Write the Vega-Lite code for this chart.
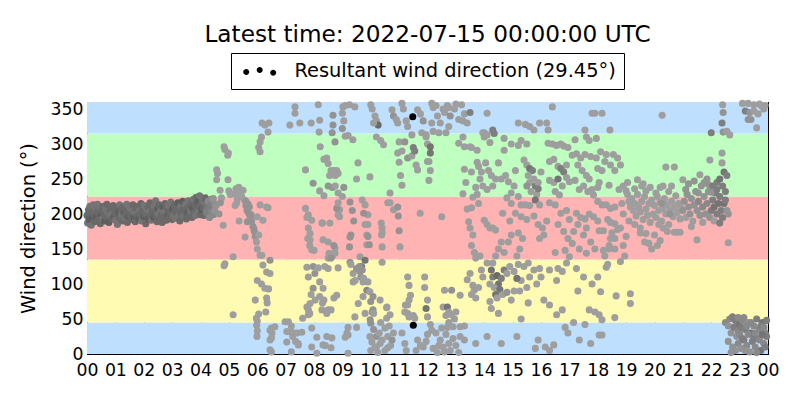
{
  "$schema": "https://vega.github.io/schema/vega-lite/v6.json",
  "width": 681,
  "height": 252,
  "autosize": {"type": "none"},
  "padding": {"left": 87, "top": 102, "right": 32, "bottom": 46},
  "background": "white",
  "title": {"text": "Latest time: 2022-07-15 00:00:00 UTC", "fontSize": 23.2, "fontWeight": "normal", "color": "black", "anchor": "middle", "offset": 5},
  "datasets": {
    "pts": [
      {"t":0.00,"d":198,"s":5},{"t":0.02,"d":187,"s":4.5},{"t":0.05,"d":206,"s":5},{"t":0.07,"d":192,"s":5.5},{"t":0.10,"d":211,"s":4.5},{"t":0.12,"d":200,"s":5},{"t":0.15,"d":184,"s":4.5},{"t":0.17,"d":203,"s":5},{"t":0.20,"d":195,"s":5.5},{"t":0.22,"d":213,"s":4.5},
      {"t":0.25,"d":199,"s":5},{"t":0.27,"d":189,"s":5},{"t":0.30,"d":207,"s":4.5},{"t":0.32,"d":196,"s":5.5},{"t":0.35,"d":203,"s":5},{"t":0.37,"d":214,"s":4.5},{"t":0.40,"d":192,"s":5},{"t":0.42,"d":201,"s":5},{"t":0.45,"d":209,"s":4.5},{"t":0.47,"d":186,"s":5},
      {"t":0.50,"d":199,"s":5.5},{"t":0.52,"d":205,"s":5},{"t":0.55,"d":193,"s":4.5},{"t":0.57,"d":211,"s":5},{"t":0.60,"d":200,"s":5},{"t":0.62,"d":190,"s":5.5},{"t":0.65,"d":207,"s":4.5},{"t":0.67,"d":197,"s":5},{"t":0.70,"d":214,"s":5},{"t":0.72,"d":203,"s":4.5},
      {"t":0.75,"d":192,"s":5},{"t":0.77,"d":188,"s":5.5},{"t":0.80,"d":204,"s":5},{"t":0.82,"d":198,"s":4.5},{"t":0.85,"d":209,"s":5},{"t":0.87,"d":194,"s":5},{"t":0.90,"d":201,"s":4.5},{"t":0.92,"d":212,"s":5},{"t":0.95,"d":196,"s":5.5},{"t":0.97,"d":205,"s":5},
      {"t":1.00,"d":191,"s":4.5},{"t":1.02,"d":200,"s":5},{"t":1.05,"d":208,"s":5},{"t":1.07,"d":185,"s":4.5},{"t":1.10,"d":197,"s":5},{"t":1.12,"d":203,"s":5.5},{"t":1.15,"d":213,"s":4.5},{"t":1.17,"d":194,"s":5},{"t":1.20,"d":206,"s":5},{"t":1.22,"d":199,"s":4.5},
      {"t":1.25,"d":190,"s":5},{"t":1.27,"d":210,"s":5},{"t":1.30,"d":202,"s":5.5},{"t":1.32,"d":195,"s":4.5},{"t":1.35,"d":207,"s":5},{"t":1.37,"d":198,"s":5},{"t":1.40,"d":214,"s":4.5},{"t":1.42,"d":188,"s":5},{"t":1.45,"d":204,"s":5},{"t":1.47,"d":196,"s":5.5},
      {"t":1.50,"d":209,"s":4.5},{"t":1.52,"d":200,"s":5},{"t":1.55,"d":192,"s":5},{"t":1.57,"d":206,"s":4.5},{"t":1.60,"d":199,"s":5},{"t":1.62,"d":213,"s":5},{"t":1.65,"d":195,"s":5.5},{"t":1.67,"d":203,"s":4.5},{"t":1.70,"d":189,"s":5},{"t":1.72,"d":208,"s":5},
      {"t":1.75,"d":200,"s":4.5},{"t":1.77,"d":197,"s":5},{"t":1.80,"d":211,"s":5},{"t":1.82,"d":193,"s":5.5},{"t":1.85,"d":205,"s":4.5},{"t":1.87,"d":199,"s":5},{"t":1.90,"d":215,"s":5},{"t":1.92,"d":190,"s":4.5},{"t":1.95,"d":202,"s":5},{"t":1.97,"d":207,"s":5},
      {"t":2.00,"d":196,"s":5.5},{"t":2.02,"d":212,"s":4.5},{"t":2.05,"d":200,"s":5},{"t":2.07,"d":186,"s":5},{"t":2.10,"d":205,"s":4.5},{"t":2.12,"d":198,"s":5},{"t":2.15,"d":210,"s":5},{"t":2.17,"d":193,"s":5.5},{"t":2.20,"d":203,"s":4.5},{"t":2.22,"d":216,"s":5},
      {"t":2.25,"d":199,"s":5},{"t":2.27,"d":191,"s":4.5},{"t":2.30,"d":207,"s":5},{"t":2.32,"d":201,"s":5},{"t":2.35,"d":195,"s":5.5},{"t":2.37,"d":211,"s":4.5},{"t":2.40,"d":204,"s":5},{"t":2.42,"d":219,"s":4.5},{"t":2.45,"d":197,"s":5},{"t":2.47,"d":189,"s":5},
      {"t":2.50,"d":208,"s":5.5},{"t":2.52,"d":200,"s":4.5},{"t":2.55,"d":213,"s":5},{"t":2.57,"d":194,"s":5},{"t":2.60,"d":205,"s":4.5},{"t":2.62,"d":199,"s":5},{"t":2.65,"d":188,"s":5},{"t":2.67,"d":210,"s":5.5},{"t":2.70,"d":202,"s":4.5},{"t":2.72,"d":196,"s":5},
      {"t":2.75,"d":215,"s":5},{"t":2.77,"d":204,"s":4.5},{"t":2.80,"d":191,"s":5},{"t":2.82,"d":208,"s":5},{"t":2.85,"d":199,"s":5.5},{"t":2.87,"d":212,"s":4.5},{"t":2.90,"d":195,"s":5},{"t":2.92,"d":203,"s":5},{"t":2.95,"d":217,"s":4.5},{"t":2.97,"d":200,"s":5},
      {"t":3.00,"d":192,"s":5},{"t":3.02,"d":207,"s":5.5},{"t":3.05,"d":198,"s":4.5},{"t":3.07,"d":213,"s":5},{"t":3.10,"d":204,"s":5},{"t":3.12,"d":194,"s":4.5},{"t":3.15,"d":209,"s":5},{"t":3.17,"d":201,"s":5},{"t":3.20,"d":216,"s":5.5},{"t":3.22,"d":196,"s":4.5},
      {"t":3.25,"d":206,"s":5},{"t":3.27,"d":190,"s":5},{"t":3.30,"d":211,"s":4.5},{"t":3.32,"d":200,"s":5},{"t":3.35,"d":205,"s":5},{"t":3.37,"d":218,"s":5.5},{"t":3.40,"d":197,"s":4.5},{"t":3.42,"d":208,"s":5},{"t":3.45,"d":203,"s":5},{"t":3.47,"d":214,"s":4.5},
      {"t":3.50,"d":193,"s":5},{"t":3.52,"d":207,"s":5},{"t":3.55,"d":201,"s":5.5},{"t":3.57,"d":219,"s":4.5},{"t":3.60,"d":198,"s":5},{"t":3.62,"d":210,"s":5},{"t":3.65,"d":204,"s":4.5},{"t":3.67,"d":215,"s":5},{"t":3.70,"d":195,"s":5},{"t":3.72,"d":209,"s":5.5},
      {"t":3.75,"d":221,"s":4.5},{"t":3.77,"d":202,"s":5},{"t":3.80,"d":213,"s":5},{"t":3.82,"d":198,"s":4.5},{"t":3.85,"d":224,"s":5},{"t":3.87,"d":207,"s":5},{"t":3.90,"d":217,"s":5.5},{"t":3.92,"d":203,"s":4.5},{"t":3.95,"d":211,"s":5},{"t":3.97,"d":226,"s":4.5},
      {"t":4.00,"d":199,"s":5},{"t":4.02,"d":214,"s":5},{"t":4.05,"d":206,"s":5.5},{"t":4.07,"d":220,"s":4.5},{"t":4.10,"d":209,"s":5},{"t":4.12,"d":198,"s":5},{"t":4.15,"d":216,"s":4.5},{"t":4.17,"d":223,"s":5},{"t":4.20,"d":204,"s":4},{"t":4.22,"d":212,"s":4.5},
      {"t":4.25,"d":200,"s":4},{"t":4.27,"d":218,"s":3.5},{"t":4.30,"d":207,"s":4},{"t":4.32,"d":195,"s":3.5},{"t":4.35,"d":213,"s":4},{"t":4.37,"d":221,"s":3.5},{"t":4.40,"d":205,"s":3.5},{"t":4.42,"d":210,"s":4},{"t":4.45,"d":199,"s":3.5},{"t":4.47,"d":215,"s":3.5},

      {"t":4.57,"d":263,"s":2.5},{"t":4.57,"d":249,"s":2.5},{"t":4.6,"d":258,"s":2.5},{"t":4.69,"d":234,"s":2.5},{"t":4.74,"d":223,"s":2.5},{"t":4.8,"d":184,"s":2.5},{"t":4.83,"d":126,"s":2.5},{"t":4.86,"d":129,"s":2.5},{"t":4.83,"d":296,"s":2.5},{"t":4.86,"d":292,"s":2.5},
      {"t":4.96,"d":284,"s":2.5},{"t":4.98,"d":287,"s":2.5},{"t":4.97,"d":249,"s":2.5},{"t":4.5,"d":205,"s":3},{"t":4.55,"d":212,"s":3},{"t":4.65,"d":200,"s":3},{"t":4.45,"d":222,"s":3},{"t":4.7,"d":216,"s":3},

      {"t":5.15,"d":139,"s":2.5},{"t":5.15,"d":56,"s":2.5},{"t":5.2,"d":229,"s":2.5},{"t":5.25,"d":236,"s":2.5},{"t":5.3,"d":222,"s":2.5},{"t":5.35,"d":238,"s":2.5},{"t":5.4,"d":231,"s":2.5},{"t":5.45,"d":225,"s":2.5},{"t":5.5,"d":234,"s":2.5},{"t":5.55,"d":220,"s":2.5},
      {"t":5.28,"d":216,"s":2.5},{"t":5.36,"d":190,"s":2.5},{"t":5.22,"d":212,"s":2.5},{"t":5.6,"d":212,"s":3},{"t":5.64,"d":205,"s":3},{"t":5.7,"d":201,"s":3},{"t":5.75,"d":196,"s":3},{"t":5.8,"d":190,"s":3},{"t":5.85,"d":182,"s":3},{"t":5.9,"d":175,"s":3},
      {"t":5.93,"d":168,"s":3},{"t":5.97,"d":160,"s":2.5},{"t":5.57,"d":167,"s":2.5},{"t":5.0,"d":233,"s":2.5},{"t":5.05,"d":228,"s":2.5},{"t":5.65,"d":189,"s":3},{"t":5.72,"d":210,"s":3},{"t":5.6,"d":218,"s":3},{"t":5.68,"d":214,"s":3},{"t":5.78,"d":199,"s":3},{"t":5.88,"d":179,"s":3},

      {"t":5.93,"d":77,"s":2.5},{"t":5.97,"d":51,"s":2.5},{"t":5.98,"d":41,"s":2.5},{"t":5.99,"d":25,"s":2.5},{"t":6.2,"d":127,"s":2.5},{"t":6.16,"d":141,"s":2.5},{"t":6.33,"d":117,"s":2.5},{"t":6.45,"d":115,"s":2.5},{"t":6.27,"d":94,"s":2.5},{"t":6.4,"d":93,"s":2.5},
      {"t":6.33,"d":80,"s":2.5},{"t":6.35,"d":73,"s":2.5},{"t":6.45,"d":134,"s":3},{"t":6.5,"d":37,"s":2.5},{"t":6.52,"d":30,"s":2.5},{"t":6.5,"d":23,"s":2.5},{"t":6.5,"d":3,"s":2.5},{"t":6.2,"d":191,"s":2.5},{"t":6.1,"d":213,"s":2.5},{"t":6.33,"d":210,"s":2.5},
      {"t":6.38,"d":209,"s":2.5},{"t":6.62,"d":39,"s":2.5},{"t":6.17,"d":330,"s":2.5},{"t":6.27,"d":327,"s":2.5},{"t":6.41,"d":330,"s":2.5},{"t":6.38,"d":317,"s":2.5},{"t":6.1,"d":303,"s":2.5},{"t":6.1,"d":289,"s":2.5},{"t":6.05,"d":295,"s":2.5},{"t":6.15,"d":310,"s":2.5},
      {"t":6.0,"d":196,"s":2.5},{"t":6.05,"d":170,"s":2.5},{"t":6.0,"d":150,"s":2.5},{"t":6.1,"d":141,"s":2.5},{"t":6.0,"d":47,"s":2.5},{"t":6.0,"d":33,"s":2.5},{"t":6.45,"d":34,"s":2.5},{"t":6.45,"d":20,"s":2.5},{"t":6.45,"d":6,"s":2.5},{"t":6.3,"d":60,"s":2.5},
      {"t":6.05,"d":57,"s":2.5},{"t":6.0,"d":105,"s":2.5},{"t":6.15,"d":100,"s":2.5},

      {"t":6.98,"d":46,"s":2.5},{"t":7.04,"d":32,"s":2.5},{"t":7.2,"d":31,"s":2.5},{"t":7.04,"d":17,"s":2.5},{"t":7.2,"d":3,"s":2.5},{"t":7.3,"d":30,"s":2.5},{"t":7.4,"d":30,"s":2.5},{"t":7.57,"d":31,"s":2.5},{"t":7.44,"d":15,"s":2.5},{"t":7.6,"d":51,"s":2.5},
      {"t":7.75,"d":67,"s":2.5},{"t":7.8,"d":63,"s":2.5},{"t":7.86,"d":72,"s":2.5},{"t":7.8,"d":56,"s":2.5},{"t":7.97,"d":125,"s":3},{"t":7.97,"d":94,"s":3},{"t":7.92,"d":37,"s":2.5},{"t":7.92,"d":10,"s":2.5},{"t":7.86,"d":163,"s":2.5},{"t":7.86,"d":172,"s":2.5},
      {"t":7.92,"d":149,"s":2.5},{"t":7.8,"d":199,"s":2.5},{"t":7.92,"d":191,"s":2.5},{"t":7.15,"d":327,"s":2.5},{"t":7.33,"d":353,"s":2.5},{"t":7.33,"d":344,"s":2.5},{"t":7.1,"d":46,"s":2.5},{"t":7.2,"d":40,"s":2.5},{"t":7.25,"d":25,"s":2.5},{"t":7.35,"d":18,"s":2.5},
      {"t":7.45,"d":13,"s":2.5},{"t":7.7,"d":208,"s":2.5},{"t":7.75,"d":195,"s":2.5},{"t":7.8,"d":180,"s":2.5},{"t":7.78,"d":165,"s":2.5},{"t":7.85,"d":155,"s":2.5},{"t":7.75,"d":124,"s":2.5},{"t":7.8,"d":110,"s":2.5},{"t":7.9,"d":85,"s":2.5},{"t":7.85,"d":58,"s":2.5},
      {"t":7.97,"d":244,"s":3},{"t":7.9,"d":330,"s":2.5},{"t":7.5,"d":330,"s":2.5},{"t":7.7,"d":263,"s":2.5},

      {"t":8.03,"d":115,"s":3},{"t":8.04,"d":77,"s":2.5},{"t":8.1,"d":1,"s":2.5},{"t":8.0,"d":148,"s":2.5},{"t":8.28,"d":187,"s":2.5},{"t":8.32,"d":163,"s":2.5},{"t":8.2,"d":82,"s":2.5},{"t":8.28,"d":63,"s":2.5},{"t":8.32,"d":94,"s":2.5},{"t":8.35,"d":77,"s":2.5},
      {"t":8.5,"d":63,"s":2.5},{"t":8.45,"d":25,"s":2.5},{"t":8.32,"d":13,"s":2.5},{"t":8.38,"d":125,"s":2.5},{"t":8.5,"d":122,"s":2.5},{"t":8.5,"d":137,"s":2.5},{"t":8.53,"d":144,"s":2.5},{"t":8.74,"d":144,"s":2.5},{"t":8.74,"d":151,"s":2.5},{"t":8.56,"d":187,"s":2.5},
      {"t":8.63,"d":23,"s":2.5},{"t":8.8,"d":84,"s":2.5},{"t":8.85,"d":123,"s":2.5},{"t":8.85,"d":199,"s":2.5},{"t":8.9,"d":206,"s":2.5},{"t":8.15,"d":356,"s":2.5},{"t":8.2,"d":334,"s":2.5},{"t":8.18,"d":317,"s":2.5},{"t":8.67,"d":341,"s":3},{"t":8.67,"d":327,"s":3},
      {"t":8.64,"d":316,"s":3},{"t":8.74,"d":303,"s":3},{"t":8.45,"d":280,"s":2.5},{"t":8.5,"d":272,"s":2.5},{"t":8.6,"d":262,"s":2.5},{"t":8.7,"d":262,"s":2.5},{"t":8.8,"d":262,"s":2.5},{"t":8.85,"d":258,"s":2.5},{"t":8.55,"d":255,"s":2.5},{"t":8.75,"d":255,"s":2.5},
      {"t":8.2,"d":233,"s":2.5},{"t":8.35,"d":226,"s":2.5},{"t":8.5,"d":240,"s":3},{"t":8.65,"d":238,"s":3},{"t":8.75,"d":240,"s":2.5},{"t":8.85,"d":230,"s":2.5},{"t":8.3,"d":187,"s":2.5},{"t":8.5,"d":160,"s":2.5},{"t":8.7,"d":155,"s":3},{"t":8.65,"d":140,"s":2.5},
      {"t":8.55,"d":140,"s":2.5},{"t":8.6,"d":137,"s":3},{"t":8.8,"d":208,"s":3},{"t":8.9,"d":196,"s":2.5},{"t":8.85,"d":216,"s":2.5},{"t":8.15,"d":123,"s":2.5},{"t":8.2,"d":103,"s":2.5},{"t":8.3,"d":73,"s":2.5},{"t":8.45,"d":58,"s":2.5},{"t":8.6,"d":63,"s":2.5},
      {"t":8.7,"d":80,"s":2.5},{"t":8.1,"d":24,"s":2.5},{"t":8.4,"d":12,"s":2.5},{"t":8.6,"d":9,"s":2.5},{"t":8.22,"d":296,"s":2.5},{"t":8.35,"d":278,"s":2.5},

      {"t":9.16,"d":30,"s":2.5},{"t":9.2,"d":27,"s":2.5},{"t":9.2,"d":1,"s":2.5},{"t":9.27,"d":167,"s":3},{"t":9.27,"d":131,"s":3},{"t":9.38,"d":115,"s":2.5},{"t":9.38,"d":103,"s":2.5},{"t":9.44,"d":53,"s":2.5},{"t":9.56,"d":72,"s":2.5},{"t":9.62,"d":139,"s":2.5},
      {"t":9.62,"d":118,"s":3},{"t":9.68,"d":125,"s":4},{"t":9.7,"d":120,"s":3},{"t":9.73,"d":103,"s":2.5},{"t":9.8,"d":134,"s":4.5},{"t":9.86,"d":156,"s":2.5},{"t":9.86,"d":170,"s":2.5},{"t":9.9,"d":199,"s":2.5},{"t":9.9,"d":185,"s":2.5},{"t":9.9,"d":103,"s":2.5},
      {"t":9.86,"d":91,"s":3.5},{"t":9.73,"d":82,"s":2.5},{"t":9.8,"d":58,"s":2.5},{"t":9.97,"d":25,"s":2.5},{"t":9.02,"d":353,"s":2.5},{"t":9.1,"d":355,"s":2.5},{"t":9.25,"d":356,"s":2.5},{"t":9.44,"d":353,"s":2.5},{"t":9.0,"d":344,"s":2.5},{"t":9.05,"d":333,"s":2.5},
      {"t":9.0,"d":322,"s":3},{"t":9.1,"d":311,"s":2.5},{"t":9.2,"d":312,"s":2.5},{"t":9.37,"d":306,"s":2.5},{"t":9.55,"d":273,"s":2.5},{"t":9.5,"d":250,"s":2.5},{"t":9.97,"d":253,"s":2.5},{"t":9.27,"d":217,"s":3},{"t":9.35,"d":205,"s":3},{"t":9.4,"d":190,"s":3},
      {"t":9.3,"d":170,"s":3},{"t":9.25,"d":153,"s":3},{"t":9.7,"d":220,"s":2.5},{"t":9.8,"d":213,"s":2.5},{"t":9.75,"d":201,"s":3},{"t":9.8,"d":185,"s":2.5},{"t":9.9,"d":168,"s":3},{"t":9.95,"d":156,"s":3},{"t":9.3,"d":128,"s":2.5},{"t":9.5,"d":122,"s":3},
      {"t":9.6,"d":125,"s":3},{"t":9.65,"d":110,"s":3},{"t":9.75,"d":108,"s":2.5},{"t":9.45,"d":105,"s":2.5},{"t":9.97,"d":89,"s":2.5},{"t":10.0,"d":75,"s":3},{"t":10.05,"d":60,"s":3},{"t":9.98,"d":49,"s":3},{"t":9.2,"d":38,"s":2.5},{"t":9.5,"d":38,"s":2.5},
      {"t":9.1,"d":24,"s":2.5},{"t":9.0,"d":225,"s":2.5},{"t":9.05,"d":238,"s":3},

      {"t":10.04,"d":17,"s":2.5},{"t":10.08,"d":82,"s":3},{"t":10.08,"d":63,"s":3},{"t":10.1,"d":58,"s":2.5},{"t":10.2,"d":10,"s":2.5},{"t":10.33,"d":15,"s":2.5},{"t":10.4,"d":173,"s":2.5},{"t":10.4,"d":180,"s":2.5},{"t":10.4,"d":131,"s":2.5},{"t":10.33,"d":77,"s":2.5},
      {"t":10.56,"d":66,"s":2.5},{"t":10.56,"d":51,"s":2.5},{"t":10.5,"d":37,"s":2.5},{"t":10.6,"d":9,"s":2.5},{"t":10.7,"d":12,"s":2.5},{"t":10.65,"d":40,"s":2.5},{"t":10.8,"d":206,"s":2.5},{"t":10.6,"d":216,"s":2.5},{"t":10.0,"d":356,"s":2.5},{"t":10.05,"d":350,"s":2.5},
      {"t":10.15,"d":340,"s":2.5},{"t":10.2,"d":333,"s":2.5},{"t":10.26,"d":327,"s":5},{"t":10.1,"d":330,"s":2.5},{"t":10.2,"d":310,"s":2.5},{"t":10.35,"d":305,"s":2.5},{"t":10.45,"d":299,"s":2.5},{"t":10.75,"d":349,"s":2.5},{"t":10.8,"d":340,"s":3},{"t":10.9,"d":335,"s":2.5},
      {"t":10.95,"d":330,"s":2.5},{"t":10.68,"d":230,"s":2.5},{"t":10.37,"d":187,"s":2.5},{"t":10.38,"d":170,"s":2.5},{"t":10.4,"d":153,"s":2.5},{"t":10.68,"d":216,"s":2.5},{"t":10.95,"d":210,"s":3},{"t":10.97,"d":197,"s":3},{"t":11.0,"d":176,"s":3},{"t":11.03,"d":153,"s":2.5},
      {"t":10.57,"d":67,"s":2.5},{"t":10.68,"d":56,"s":2.5},{"t":10.0,"d":44,"s":3},{"t":10.1,"d":35,"s":3},{"t":10.2,"d":25,"s":3},{"t":10.3,"d":30,"s":2.5},{"t":10.4,"d":20,"s":2.5},{"t":10.5,"d":5,"s":2.5},{"t":10.6,"d":25,"s":2.5},{"t":10.75,"d":20,"s":3},
      {"t":10.8,"d":30,"s":2.5},{"t":10.25,"d":2,"s":2.5},{"t":10.0,"d":5,"s":2.5},{"t":10.35,"d":45,"s":2.5},{"t":10.15,"d":10,"s":2.5},

      {"t":11.1,"d":358,"s":2.5},{"t":11.15,"d":350,"s":2.5},{"t":11.25,"d":333,"s":2.5},{"t":11.3,"d":325,"s":2.5},{"t":11.45,"d":313,"s":2.5},{"t":11.48,"d":339,"s":10},{"t":11.65,"d":349,"s":2.5},{"t":11.75,"d":343,"s":2.5},{"t":11.85,"d":333,"s":3},{"t":11.8,"d":316,"s":2.5},
      {"t":11.95,"d":310,"s":2.5},{"t":11.0,"d":303,"s":2.5},{"t":10.95,"d":287,"s":2.5},{"t":11.2,"d":303,"s":3},{"t":11.1,"d":290,"s":2.5},{"t":11.3,"d":280,"s":3},{"t":11.45,"d":283,"s":2.5},{"t":11.6,"d":270,"s":2.5},{"t":11.65,"d":263,"s":2.5},{"t":11.5,"d":295,"s":4},
      {"t":11.55,"d":290,"s":4},{"t":12.0,"d":300,"s":2.5},{"t":12.0,"d":275,"s":2.5},{"t":11.0,"d":274,"s":2.5},{"t":11.05,"d":255,"s":2.5},{"t":11.1,"d":241,"s":2.5},{"t":11.74,"d":201,"s":2.5},{"t":11.3,"d":110,"s":2.5},{"t":11.35,"d":98,"s":2.5},{"t":11.4,"d":84,"s":2.5},
      {"t":11.35,"d":77,"s":2.5},{"t":11.3,"d":70,"s":2.5},{"t":11.3,"d":58,"s":2.5},{"t":11.35,"d":53,"s":2.5},{"t":11.5,"d":55,"s":2.5},{"t":11.55,"d":51,"s":2.5},{"t":11.5,"d":41,"s":10},{"t":11.2,"d":60,"s":2.5},{"t":11.22,"d":70,"s":2.5},{"t":11.65,"d":20,"s":2.5},
      {"t":11.75,"d":12,"s":2.5},{"t":11.85,"d":10,"s":2.5},{"t":11.95,"d":18,"s":2.5},{"t":12.0,"d":28,"s":2.5},{"t":11.2,"d":15,"s":2.5},{"t":11.1,"d":30,"s":2.5},{"t":11.25,"d":5,"s":2.5},{"t":11.9,"d":110,"s":2.5},{"t":12.0,"d":77,"s":2.5},{"t":12.0,"d":53,"s":2.5},
      {"t":11.95,"d":65,"s":4.5},{"t":11.9,"d":95,"s":2.5},{"t":11.6,"d":5,"s":2.5},

      {"t":12.15,"d":358,"s":2.5},{"t":12.2,"d":352,"s":2.5},{"t":12.3,"d":355,"s":2.5},{"t":12.35,"d":340,"s":2.5},{"t":12.45,"d":330,"s":2.5},{"t":12.55,"d":350,"s":2.5},{"t":12.6,"d":345,"s":2.5},{"t":12.7,"d":355,"s":2.5},{"t":12.75,"d":352,"s":2.5},{"t":12.8,"d":340,"s":3},
      {"t":12.95,"d":350,"s":2.5},{"t":13.0,"d":357,"s":2.5},{"t":13.2,"d":356,"s":2.5},{"t":13.3,"d":343,"s":2.5},{"t":13.1,"d":335,"s":2.5},{"t":13.25,"d":333,"s":2.5},{"t":13.5,"d":345,"s":4},{"t":12.15,"d":330,"s":2.5},{"t":12.2,"d":318,"s":2.5},{"t":12.4,"d":316,"s":2.5},
      {"t":12.65,"d":316,"s":2.5},{"t":12.75,"d":325,"s":2.5},{"t":12.1,"d":296,"s":4.5},{"t":12.1,"d":287,"s":4.5},{"t":11.95,"d":313,"s":2.5},{"t":12.05,"d":275,"s":2.5},{"t":12.1,"d":262,"s":2.5},{"t":12.05,"d":248,"s":2.5},{"t":12.5,"d":196,"s":2.5},{"t":12.6,"d":91,"s":2.5},
      {"t":12.55,"d":67,"s":2.5},{"t":12.65,"d":55,"s":2.5},{"t":12.75,"d":45,"s":2.5},{"t":12.85,"d":56,"s":2.5},{"t":12.95,"d":50,"s":2.5},{"t":12.7,"d":38,"s":2.5},{"t":12.85,"d":91,"s":3},{"t":12.7,"d":67,"s":4.5},{"t":12.75,"d":60,"s":2.5},{"t":13.0,"d":60,"s":2.5},
      {"t":12.9,"d":39,"s":2.5},{"t":13.15,"d":39,"s":2.5},{"t":13.3,"d":40,"s":2.5},{"t":12.15,"d":34,"s":2.5},{"t":12.3,"d":30,"s":2.5},{"t":12.45,"d":20,"s":2.5},{"t":12.55,"d":10,"s":2.5},{"t":12.6,"d":3,"s":2.5},{"t":12.75,"d":15,"s":2.5},{"t":12.8,"d":5,"s":2.5},
      {"t":12.9,"d":22,"s":2.5},{"t":13.0,"d":12,"s":2.5},{"t":13.1,"d":2,"s":2.5},{"t":13.15,"d":25,"s":2.5},{"t":12.2,"d":8,"s":2.5},{"t":12.35,"d":2,"s":2.5},{"t":12.4,"d":12,"s":2.5},{"t":12.1,"d":42,"s":2.5},{"t":12.5,"d":37,"s":2.5},{"t":12.65,"d":28,"s":2.5},

      {"t":13.1,"d":301,"s":2.5},{"t":13.3,"d":296,"s":2.5},{"t":13.5,"d":296,"s":2.5},{"t":13.55,"d":295,"s":2.5},{"t":13.75,"d":291,"s":2.5},{"t":13.45,"d":189,"s":2.5},{"t":13.5,"d":180,"s":2.5},{"t":13.6,"d":170,"s":2.5},{"t":13.55,"d":155,"s":2.5},{"t":13.65,"d":145,"s":2.5},
      {"t":13.7,"d":137,"s":2.5},{"t":13.85,"d":140,"s":2.5},{"t":13.6,"d":224,"s":2.5},{"t":13.55,"d":209,"s":2.5},{"t":13.4,"d":207,"s":2.5},{"t":13.8,"d":215,"s":2.5},{"t":13.75,"d":274,"s":2.5},{"t":13.8,"d":268,"s":2.5},{"t":13.9,"d":260,"s":2.5},{"t":13.85,"d":250,"s":2.5},
      {"t":13.95,"d":240,"s":2.5},{"t":13.7,"d":238,"s":2.5},{"t":13.75,"d":228,"s":2.5},{"t":13.4,"d":106,"s":2.5},{"t":13.6,"d":98,"s":2.5},{"t":13.65,"d":91,"s":2.5},{"t":13.55,"d":85,"s":2.5},{"t":13.7,"d":80,"s":2.5},{"t":13.5,"d":115,"s":2.5},{"t":13.8,"d":95,"s":2.5},
      {"t":13.95,"d":316,"s":2.5},{"t":14.0,"d":310,"s":2.5},{"t":13.55,"d":260,"s":2.5},{"t":13.3,"d":264,"s":2.5},{"t":13.25,"d":229,"s":2.5},{"t":13.35,"d":245,"s":2.5},{"t":13.95,"d":110,"s":2.5},{"t":13.9,"d":120,"s":2.5},{"t":13.15,"d":84,"s":2.5},{"t":13.3,"d":20,"s":2.5},
      {"t":13.7,"d":15,"s":2.5},{"t":13.25,"d":310,"s":2.5},{"t":13.4,"d":330,"s":2.5},

      {"t":14.1,"d":344,"s":2.5},{"t":14.0,"d":316,"s":2.5},{"t":14.1,"d":313,"s":2.5},{"t":14.3,"d":320,"s":4},{"t":14.35,"d":315,"s":4},{"t":14.2,"d":302,"s":2.5},{"t":14.0,"d":191,"s":2.5},{"t":14.1,"d":185,"s":2.5},{"t":14.2,"d":180,"s":2.5},{"t":14.3,"d":180,"s":2.5},
      {"t":14.4,"d":177,"s":2.5},{"t":14.05,"d":273,"s":2.5},{"t":14.15,"d":262,"s":2.5},{"t":14.25,"d":255,"s":2.5},{"t":14.4,"d":250,"s":2.5},{"t":14.1,"d":235,"s":2.5},{"t":14.3,"d":240,"s":2.5},{"t":14.5,"d":273,"s":2.5},{"t":14.6,"d":250,"s":2.5},{"t":14.75,"d":255,"s":2.5},
      {"t":14.85,"d":246,"s":2.5},{"t":14.95,"d":230,"s":2.5},{"t":15.1,"d":262,"s":2.5},{"t":15.05,"d":240,"s":2.5},{"t":14.7,"d":308,"s":2.5},{"t":14.7,"d":291,"s":2.5},{"t":14.95,"d":300,"s":2.5},{"t":15.2,"d":298,"s":2.5},{"t":14.8,"d":223,"s":2.5},{"t":14.95,"d":215,"s":2.5},
      {"t":14.65,"d":201,"s":2.5},{"t":14.9,"d":190,"s":2.5},{"t":14.6,"d":160,"s":2.5},{"t":14.5,"d":150,"s":2.5},{"t":14.4,"d":140,"s":2.5},{"t":14.7,"d":145,"s":2.5},{"t":14.85,"d":160,"s":2.5},{"t":14.95,"d":170,"s":2.5},{"t":14.1,"d":130,"s":2.5},{"t":14.25,"d":120,"s":4.5},
      {"t":14.3,"d":110,"s":4},{"t":14.45,"d":112,"s":5},{"t":14.5,"d":100,"s":4.5},{"t":14.6,"d":108,"s":4},{"t":14.7,"d":120,"s":4},{"t":14.8,"d":115,"s":2.5},{"t":14.9,"d":125,"s":2.5},{"t":14.2,"d":100,"s":2.5},{"t":14.35,"d":95,"s":2.5},{"t":14.55,"d":92,"s":4.5},
      {"t":14.65,"d":85,"s":2.5},{"t":14.8,"d":88,"s":3},{"t":14.95,"d":77,"s":2.5},{"t":15.05,"d":90,"s":2.5},{"t":14.2,"d":75,"s":2.5},{"t":14.25,"d":65,"s":2.5},{"t":14.5,"d":58,"s":2.5},{"t":14.1,"d":25,"s":2.5},{"t":14.6,"d":15,"s":2.5},{"t":14.3,"d":130,"s":2.5},
      {"t":14.4,"d":85,"s":4.5},{"t":14.45,"d":80,"s":2.5},

      {"t":15.2,"d":330,"s":2.5},{"t":15.45,"d":328,"s":2.5},{"t":15.6,"d":325,"s":2.5},{"t":15.75,"d":320,"s":2.5},{"t":15.95,"d":330,"s":2.5},{"t":16.2,"d":330,"s":2.5},{"t":15.3,"d":305,"s":2.5},{"t":15.5,"d":300,"s":2.5},{"t":15.4,"d":277,"s":2.5},{"t":15.5,"d":270,"s":2.5},
      {"t":15.6,"d":265,"s":4.5},{"t":15.7,"d":262,"s":4},{"t":15.55,"d":255,"s":2.5},{"t":15.6,"d":245,"s":2.5},{"t":15.75,"d":250,"s":2.5},{"t":15.8,"d":240,"s":4},{"t":15.9,"d":245,"s":2.5},{"t":16.0,"d":260,"s":2.5},{"t":15.65,"d":232,"s":2.5},{"t":15.85,"d":228,"s":2.5},
      {"t":15.9,"d":236,"s":4},{"t":15.5,"d":240,"s":3},{"t":15.2,"d":225,"s":2.5},{"t":15.3,"d":213,"s":2.5},{"t":15.45,"d":213,"s":2.5},{"t":15.6,"d":212,"s":2.5},{"t":15.8,"d":220,"s":4.5},{"t":15.95,"d":213,"s":2.5},{"t":15.1,"d":201,"s":2.5},{"t":15.3,"d":196,"s":2.5},
      {"t":15.5,"d":192,"s":2.5},{"t":15.75,"d":197,"s":2.5},{"t":15.9,"d":185,"s":2.5},{"t":16.05,"d":180,"s":2.5},{"t":16.1,"d":170,"s":2.5},{"t":15.95,"d":165,"s":2.5},{"t":15.2,"d":173,"s":2.5},{"t":15.35,"d":165,"s":2.5},{"t":15.25,"d":150,"s":2.5},{"t":15.15,"d":140,"s":2.5},
      {"t":15.2,"d":128,"s":2.5},{"t":15.4,"d":125,"s":2.5},{"t":15.55,"d":130,"s":2.5},{"t":15.75,"d":120,"s":2.5},{"t":15.95,"d":122,"s":2.5},{"t":16.0,"d":110,"s":2.5},{"t":15.3,"d":105,"s":2.5},{"t":15.5,"d":95,"s":2.5},{"t":15.6,"d":110,"s":2.5},{"t":15.85,"d":100,"s":2.5},
      {"t":15.3,"d":50,"s":2.5},{"t":15.55,"d":73,"s":2.5},{"t":15.15,"d":25,"s":2.5},{"t":15.9,"d":20,"s":2.5},{"t":15.8,"d":8,"s":2.5},{"t":15.05,"d":118,"s":2.5},{"t":15.15,"d":108,"s":4.5},{"t":15.25,"d":90,"s":2.5},

      {"t":16.4,"d":353,"s":2.5},{"t":16.25,"d":301,"s":2.5},{"t":16.4,"d":300,"s":2.5},{"t":16.55,"d":298,"s":2.5},{"t":16.7,"d":300,"s":2.5},{"t":16.8,"d":297,"s":2.5},{"t":16.95,"d":295,"s":2.5},{"t":16.3,"d":275,"s":2.5},{"t":16.45,"d":278,"s":2.5},{"t":16.6,"d":268,"s":2.5},
      {"t":16.7,"d":265,"s":4},{"t":16.8,"d":260,"s":4},{"t":16.9,"d":270,"s":2.5},{"t":16.3,"d":248,"s":2.5},{"t":16.45,"d":245,"s":2.5},{"t":16.6,"d":250,"s":4.5},{"t":16.75,"d":240,"s":2.5},{"t":16.9,"d":252,"s":2.5},{"t":17.0,"d":246,"s":2.5},{"t":16.5,"d":232,"s":2.5},
      {"t":16.65,"d":227,"s":2.5},{"t":16.3,"d":216,"s":2.5},{"t":16.5,"d":213,"s":2.5},{"t":16.7,"d":201,"s":2.5},{"t":16.9,"d":205,"s":2.5},{"t":17.0,"d":192,"s":2.5},{"t":16.2,"d":190,"s":2.5},{"t":16.6,"d":185,"s":2.5},{"t":16.8,"d":175,"s":2.5},{"t":16.95,"d":165,"s":2.5},
      {"t":17.1,"d":158,"s":2.5},{"t":16.5,"d":145,"s":2.5},{"t":16.85,"d":148,"s":2.5},{"t":17.0,"d":139,"s":2.5},{"t":16.3,"d":120,"s":2.5},{"t":16.55,"d":105,"s":2.5},{"t":16.75,"d":118,"s":2.5},{"t":16.9,"d":130,"s":2.5},{"t":16.6,"d":122,"s":2.5},{"t":16.1,"d":77,"s":2.5},
      {"t":16.3,"d":70,"s":2.5},{"t":16.55,"d":56,"s":2.5},{"t":16.75,"d":63,"s":2.5},{"t":16.85,"d":38,"s":2.5},{"t":16.15,"d":10,"s":2.5},{"t":16.3,"d":5,"s":2.5},{"t":16.45,"d":13,"s":2.5},{"t":16.95,"d":30,"s":2.5},{"t":16.25,"d":320,"s":2.5},

      {"t":17.55,"d":320,"s":2.5},{"t":17.8,"d":344,"s":2.5},{"t":17.2,"d":306,"s":2.5},{"t":17.6,"d":310,"s":2.5},{"t":17.7,"d":305,"s":2.5},{"t":17.95,"d":308,"s":2.5},{"t":17.1,"d":284,"s":2.5},{"t":17.25,"d":286,"s":2.5},{"t":17.4,"d":280,"s":2.5},{"t":17.55,"d":285,"s":2.5},
      {"t":17.75,"d":282,"s":2.5},{"t":17.95,"d":280,"s":2.5},{"t":17.3,"d":270,"s":2.5},{"t":17.45,"d":262,"s":2.5},{"t":17.6,"d":255,"s":2.5},{"t":17.7,"d":250,"s":2.5},{"t":17.5,"d":240,"s":2.5},{"t":17.35,"d":235,"s":2.5},{"t":17.2,"d":248,"s":2.5},{"t":17.8,"d":235,"s":2.5},
      {"t":17.85,"d":227,"s":2.5},{"t":17.65,"d":232,"s":2.5},{"t":17.25,"d":201,"s":2.5},{"t":17.4,"d":195,"s":2.5},{"t":17.55,"d":193,"s":2.5},{"t":17.7,"d":200,"s":2.5},{"t":17.85,"d":196,"s":2.5},{"t":18.0,"d":190,"s":2.5},{"t":17.3,"d":185,"s":2.5},{"t":17.6,"d":180,"s":2.5},
      {"t":17.15,"d":175,"s":2.5},{"t":17.5,"d":170,"s":2.5},{"t":17.75,"d":160,"s":2.5},{"t":17.9,"d":150,"s":2.5},{"t":17.35,"d":150,"s":2.5},{"t":17.6,"d":144,"s":2.5},{"t":17.25,"d":122,"s":2.5},{"t":17.5,"d":110,"s":2.5},{"t":17.8,"d":100,"s":2.5},{"t":17.3,"d":90,"s":2.5},
      {"t":17.9,"d":60,"s":2.5},{"t":17.55,"d":42,"s":2.5},{"t":17.35,"d":20,"s":2.5},{"t":17.75,"d":15,"s":2.5},{"t":17.15,"d":45,"s":2.5},{"t":17.7,"d":63,"s":2.5},{"t":18.0,"d":110,"s":2.5},

      {"t":17.9,"d":344,"s":2.5},{"t":18.15,"d":344,"s":2.5},{"t":18.43,"d":320,"s":2.5},{"t":18.1,"d":289,"s":2.5},{"t":18.3,"d":285,"s":2.5},{"t":18.25,"d":275,"s":2.5},{"t":18.15,"d":262,"s":2.5},{"t":18.45,"d":270,"s":2.5},{"t":18.6,"d":262,"s":2.5},{"t":18.55,"d":285,"s":2.5},
      {"t":18.7,"d":280,"s":2.5},{"t":18.8,"d":270,"s":2.5},{"t":18.0,"d":265,"s":2.5},{"t":18.05,"d":245,"s":2.5},{"t":18.0,"d":238,"s":2.5},{"t":18.4,"d":241,"s":2.5},{"t":18.75,"d":235,"s":2.5},{"t":18.9,"d":240,"s":2.5},{"t":19.0,"d":233,"s":2.5},{"t":18.0,"d":218,"s":2.5},
      {"t":18.15,"d":213,"s":2.5},{"t":18.3,"d":213,"s":2.5},{"t":18.45,"d":208,"s":2.5},{"t":18.35,"d":192,"s":2.5},{"t":18.45,"d":188,"s":2.5},{"t":18.6,"d":186,"s":2.5},{"t":18.2,"d":176,"s":2.5},{"t":18.05,"d":176,"s":2.5},{"t":18.7,"d":178,"s":2.5},{"t":18.8,"d":180,"s":2.5},
      {"t":18.6,"d":210,"s":2.5},{"t":18.5,"d":173,"s":2.5},{"t":18.45,"d":165,"s":2.5},{"t":18.6,"d":165,"s":2.5},{"t":18.4,"d":155,"s":2.5},{"t":18.6,"d":150,"s":2.5},{"t":18.4,"d":150,"s":2.5},{"t":18.2,"d":148,"s":2.5},{"t":18.25,"d":140,"s":2.5},{"t":18.35,"d":128,"s":2.5},
      {"t":18.3,"d":124,"s":2.5},{"t":18.8,"d":132,"s":2.5},{"t":18.9,"d":155,"s":2.5},{"t":19.0,"d":168,"s":2.5},{"t":18.95,"d":140,"s":2.5},{"t":18.1,"d":89,"s":2.5},{"t":18.65,"d":83,"s":2.5},{"t":19.15,"d":86,"s":2.5},{"t":19.15,"d":72,"s":2.5},{"t":18.6,"d":52,"s":2.5},
      {"t":18.05,"d":56,"s":2.5},{"t":18.15,"d":49,"s":2.5},{"t":18.15,"d":27,"s":2.5},{"t":18.05,"d":27,"s":2.5},{"t":18.9,"d":200,"s":2.5},{"t":18.85,"d":215,"s":2.5},

      {"t":19.05,"d":228,"s":2.5},{"t":19.1,"d":218,"s":2.5},{"t":19.15,"d":210,"s":2.5},{"t":19.2,"d":222,"s":2.5},{"t":19.25,"d":205,"s":2.5},{"t":19.3,"d":215,"s":2.5},{"t":19.35,"d":197,"s":2.5},{"t":19.4,"d":228,"s":2.5},{"t":19.45,"d":210,"s":2.5},{"t":19.5,"d":203,"s":2.5},
      {"t":19.55,"d":218,"s":2.5},{"t":19.6,"d":192,"s":2.5},{"t":19.65,"d":225,"s":2.5},{"t":19.7,"d":207,"s":2.5},{"t":19.75,"d":198,"s":2.5},{"t":19.8,"d":215,"s":2.5},{"t":19.85,"d":188,"s":2.5},{"t":19.9,"d":220,"s":2.5},{"t":19.95,"d":200,"s":2.5},{"t":19.1,"d":190,"s":2.5},
      {"t":19.3,"d":185,"s":2.5},{"t":19.5,"d":180,"s":2.5},{"t":19.7,"d":172,"s":2.5},{"t":19.4,"d":249,"s":2.5},{"t":19.55,"d":240,"s":2.5},{"t":19.7,"d":233,"s":2.5},{"t":19.85,"d":238,"s":2.5},{"t":19.5,"d":173,"s":2.5},{"t":19.65,"d":160,"s":2.5},{"t":19.8,"d":158,"s":2.5},
      {"t":19.9,"d":150,"s":2.5},{"t":20.1,"d":155,"s":2.5},{"t":20.2,"d":162,"s":2.5},{"t":19.3,"d":236,"s":2.5},{"t":19.6,"d":243,"s":2.5},{"t":19.05,"d":245,"s":2.5},

      {"t":20.0,"d":212,"s":2.5},{"t":20.05,"d":195,"s":2.5},{"t":20.1,"d":225,"s":2.5},{"t":20.15,"d":205,"s":2.5},{"t":20.2,"d":217,"s":2.5},{"t":20.25,"d":190,"s":2.5},{"t":20.3,"d":208,"s":2.5},{"t":20.35,"d":222,"s":2.5},{"t":20.4,"d":200,"s":2.5},{"t":20.45,"d":213,"s":2.5},
      {"t":20.5,"d":185,"s":2.5},{"t":20.55,"d":205,"s":2.5},{"t":20.6,"d":218,"s":2.5},{"t":20.65,"d":196,"s":2.5},{"t":20.7,"d":210,"s":2.5},{"t":20.75,"d":226,"s":2.5},{"t":20.8,"d":202,"s":2.5},{"t":20.85,"d":215,"s":2.5},{"t":20.9,"d":193,"s":2.5},{"t":20.95,"d":208,"s":2.5},
      {"t":20.05,"d":230,"s":2.5},{"t":20.2,"d":238,"s":2.5},{"t":20.4,"d":267,"s":2.5},{"t":20.7,"d":267,"s":2.5},{"t":20.3,"d":240,"s":2.5},{"t":20.5,"d":232,"s":2.5},{"t":20.7,"d":174,"s":2.5},{"t":20.8,"d":174,"s":2.5},{"t":20.9,"d":174,"s":2.5},{"t":20.3,"d":180,"s":2.5},
      {"t":20.0,"d":170,"s":2.5},{"t":20.6,"d":240,"s":2.5},{"t":20.15,"d":185,"s":2.5},{"t":20.45,"d":175,"s":2.5},{"t":20.27,"d":341,"s":2.5},{"t":20.55,"d":200,"s":3},{"t":20.25,"d":215,"s":3},

      {"t":21.0,"d":205,"s":3},{"t":21.05,"d":218,"s":3},{"t":21.1,"d":195,"s":2.5},{"t":21.15,"d":228,"s":3},{"t":21.2,"d":210,"s":3},{"t":21.25,"d":200,"s":3},{"t":21.3,"d":222,"s":3},{"t":21.35,"d":190,"s":2.5},{"t":21.4,"d":213,"s":3},{"t":21.45,"d":232,"s":3},
      {"t":21.5,"d":205,"s":3},{"t":21.55,"d":218,"s":3.5},{"t":21.6,"d":198,"s":3},{"t":21.65,"d":240,"s":3},{"t":21.7,"d":210,"s":3.5},{"t":21.75,"d":225,"s":3},{"t":21.8,"d":200,"s":3},{"t":21.85,"d":215,"s":3.5},{"t":21.9,"d":232,"s":3},{"t":21.95,"d":195,"s":3},
      {"t":21.0,"d":249,"s":2.5},{"t":21.2,"d":243,"s":3},{"t":21.4,"d":247,"s":3},{"t":21.6,"d":256,"s":2.5},{"t":21.75,"d":245,"s":3},{"t":21.9,"d":242,"s":3},{"t":21.5,"d":163,"s":2.5},{"t":21.3,"d":182,"s":2.5},{"t":21.7,"d":188,"s":2.5},{"t":21.95,"d":277,"s":2.5},
      {"t":22.0,"d":316,"s":4},{"t":21.1,"d":235,"s":3},{"t":21.55,"d":230,"s":3},{"t":21.85,"d":250,"s":3},

      {"t":22.0,"d":205,"s":4},{"t":22.05,"d":220,"s":4},{"t":22.1,"d":210,"s":4.5},{"t":22.15,"d":230,"s":4},{"t":22.2,"d":200,"s":4},{"t":22.25,"d":215,"s":4.5},{"t":22.3,"d":225,"s":4},{"t":22.35,"d":205,"s":4},{"t":22.4,"d":195,"s":4},{"t":22.45,"d":215,"s":4.5},
      {"t":22.5,"d":220,"s":4},{"t":22.55,"d":205,"s":3},{"t":22.6,"d":200,"s":3},{"t":22.38,"d":287,"s":2.5},{"t":22.38,"d":273,"s":2.5},{"t":22.05,"d":240,"s":4},{"t":22.2,"d":245,"s":4},{"t":22.3,"d":250,"s":4.5},{"t":22.4,"d":240,"s":4},{"t":22.1,"d":190,"s":2.5},
      {"t":22.3,"d":187,"s":4},{"t":22.6,"d":159,"s":2.5},{"t":22.0,"d":231,"s":3},{"t":22.2,"d":235,"s":4},{"t":22.5,"d":232,"s":4},{"t":22.45,"d":260,"s":4.5},{"t":22.55,"d":255,"s":4},
      {"t":22.4,"d":356,"s":2.5},{"t":22.42,"d":345,"s":3},{"t":22.38,"d":330,"s":4},{"t":22.42,"d":317,"s":3},{"t":22.65,"d":313,"s":2.5},{"t":22.55,"d":318,"s":2.5},

      {"t":23.1,"d":358,"s":2.5},{"t":23.3,"d":358,"s":2.5},{"t":23.5,"d":356,"s":2.5},{"t":23.7,"d":357,"s":2.5},{"t":23.2,"d":347,"s":4},{"t":23.35,"d":345,"s":3},{"t":23.5,"d":347,"s":2.5},{"t":23.65,"d":343,"s":2.5},{"t":23.4,"d":335,"s":3},{"t":23.3,"d":335,"s":3},
      {"t":23.85,"d":350,"s":2.5},{"t":23.6,"d":323,"s":2.5},{"t":23.9,"d":355,"s":2.5},{"t":23.75,"d":355,"s":2.5},

      {"t":22.5,"d":45,"s":3.5},{"t":22.65,"d":50,"s":3.5},{"t":22.75,"d":53,"s":4},{"t":22.85,"d":48,"s":4},{"t":22.95,"d":52,"s":3.5},{"t":22.6,"d":40,"s":3},{"t":22.7,"d":30,"s":3},{"t":22.8,"d":38,"s":4},{"t":22.9,"d":25,"s":3},{"t":23.0,"d":42,"s":4.5},
      {"t":23.1,"d":48,"s":3.5},{"t":23.2,"d":35,"s":4},{"t":23.3,"d":45,"s":3},{"t":23.4,"d":30,"s":4.5},{"t":23.5,"d":40,"s":3.5},{"t":23.6,"d":50,"s":4},{"t":23.7,"d":35,"s":3.5},{"t":23.8,"d":45,"s":4.5},{"t":23.9,"d":30,"s":3.5},{"t":23.95,"d":48,"s":4},
      {"t":22.6,"d":18,"s":3},{"t":22.75,"d":10,"s":3},{"t":22.85,"d":5,"s":3},{"t":22.95,"d":15,"s":3.5},{"t":23.05,"d":8,"s":3},{"t":23.15,"d":20,"s":4},{"t":23.25,"d":12,"s":3.5},{"t":23.35,"d":3,"s":3},{"t":23.45,"d":18,"s":4},{"t":23.55,"d":10,"s":3.5},
      {"t":23.65,"d":22,"s":4},{"t":23.75,"d":5,"s":4.5},{"t":23.85,"d":15,"s":3.5},{"t":23.95,"d":25,"s":4},{"t":23.0,"d":28,"s":3.5},{"t":23.1,"d":22,"s":4},{"t":23.3,"d":28,"s":3.5},{"t":23.5,"d":25,"s":4},{"t":23.7,"d":20,"s":3.5},{"t":23.9,"d":10,"s":4},
      {"t":22.95,"d":33,"s":3.5},{"t":23.2,"d":5,"s":3},{"t":23.6,"d":2,"s":3.5},{"t":23.8,"d":28,"s":4.5},{"t":23.4,"d":45,"s":3.5},{"t":22.7,"d":2,"s":3},{"t":23.05,"d":38,"s":4},{"t":23.25,"d":40,"s":3.5},{"t":23.75,"d":40,"s":4},{"t":23.55,"d":30,"s":3.5},
      {"t":23.85,"d":38,"s":3.5},{"t":23.15,"d":52,"s":3.5}
    ]
  },
  "layer": [
    {
      "data": {"values": [
        {"lo": 0, "hi": 45, "z": "N"},
        {"lo": 45, "hi": 135, "z": "E"},
        {"lo": 135, "hi": 225, "z": "S"},
        {"lo": 225, "hi": 315, "z": "W"},
        {"lo": 315, "hi": 360, "z": "N"}
      ]},
      "mark": {"type": "rect"},
      "encoding": {
        "y": {"field": "lo", "type": "quantitative", "scale": {"domain": [0, 360], "nice": false}, "axis": null},
        "y2": {"field": "hi"},
        "color": {"field": "z", "type": "nominal", "scale": {"domain": ["N", "E", "S", "W"], "range": ["#bfdfff", "#fffbb3", "#ffb3b3", "#bfffbf"]}, "legend": null}
      }
    },
    {
      "data": {"name": "pts"},
      "transform": [{"filter": "datum.s < 10"}],
      "mark": {"type": "circle", "size": 50, "opacity": 1},
      "encoding": {
        "x": {"field": "t", "type": "quantitative", "scale": {"domain": [0, 24], "nice": false},
          "axis": {"orient": "bottom", "values": [0,1,2,3,4,5,6,7,8,9,10,11,12,13,14,15,16,17,18,19,20,21,22,23,24], "labelExpr": "datum.value == 24 ? '00' : (datum.value < 10 ? '0' + datum.value : '' + datum.value)", "title": null, "grid": true, "labelFlush": false, "labelOverlap": false, "labelPadding": 12}},
        "y": {"field": "d", "type": "quantitative", "scale": {"domain": [0, 360], "nice": false},
          "axis": {"orient": "left", "values": [0,50,100,150,200,250,300,350], "title": "Wind direction (°)", "grid": true, "titlePadding": 12, "labelPadding": 9}},
        "color": {"field": "s", "type": "quantitative", "scale": {"domain": [0, 10], "range": ["#d2d2d2", "#000000"], "interpolate": "rgb"}, "legend": null}
      }
    },
    {
      "data": {"name": "pts"},
      "transform": [{"filter": "datum.s == 10"}],
      "mark": {"type": "circle", "size": 50, "opacity": 1},
      "encoding": {
        "x": {"field": "t", "type": "quantitative", "scale": {"domain": [0, 24], "nice": false},
          "axis": {"orient": "top", "values": [0,1,2,3,4,5,6,7,8,9,10,11,12,13,14,15,16,17,18,19,20,21,22,23,24], "labels": false, "grid": false, "title": null}},
        "y": {"field": "d", "type": "quantitative", "scale": {"domain": [0, 360], "nice": false},
          "axis": {"orient": "right", "values": [0,50,100,150,200,250,300,350], "labels": false, "grid": false, "title": null}},
        "color": {"datum": "Resultant wind direction (29.45°)", "type": "nominal", "scale": {"range": ["black"]},
          "legend": {"orient": "none", "legendX": 144, "legendY": -49, "title": null,
            "symbolType": "M-0.685,0.15a0.375,0.375 0 1,0 0.75,0a0.375,0.375 0 1,0 -0.75,0M1,-0.1a0.375,0.375 0 1,0 0.75,0a0.375,0.375 0 1,0 -0.75,0M2.685,0.25a0.375,0.375 0 1,0 0.75,0a0.375,0.375 0 1,0 -0.75,0",
            "symbolSize": 256, "symbolStrokeWidth": 0, "labelFontSize": 19.4, "labelColor": "black", "labelOffset": 36, "labelLimit": 0,
            "strokeColor": "black", "fillColor": "white", "padding": 8}}
      }
    }
  ],
  "resolve": {"scale": {"color": "independent"}},
  "config": {
    "font": "DejaVu Sans",
    "view": {"stroke": "black", "strokeWidth": 1},
    "axis": {"labelFontSize": 17.3, "labelColor": "black", "tickColor": "black", "tickSize": -5, "tickWidth": 1, "domain": false,
      "gridColor": "black", "gridDash": [1, 3], "gridOpacity": 1, "gridWidth": 1,
      "titleFontSize": 19.4, "titleFontWeight": "normal", "titleColor": "black", "zindex": 1}
  }
}
